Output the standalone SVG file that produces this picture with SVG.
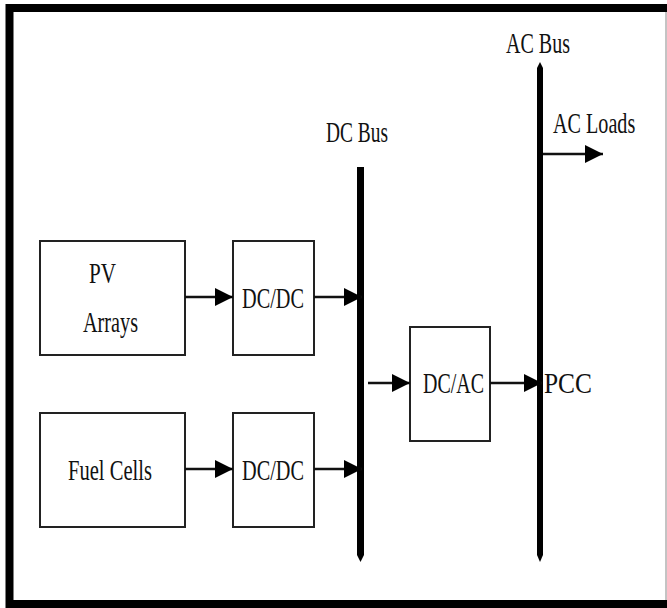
<svg xmlns="http://www.w3.org/2000/svg" width="667" height="608" viewBox="0 0 667 608">
<style>
.box{fill:#fff;stroke:#222;stroke-width:2}
.t{font-family:"Liberation Serif","Times New Roman",serif;font-size:29px;fill:#111}
.w{stroke:#111;stroke-width:2.5;fill:none}
.bus{fill:#000}
</style>
<defs>
<marker id="ah" viewBox="0 0 10 10" refX="10" refY="5" markerWidth="18" markerHeight="18" markerUnits="userSpaceOnUse" orient="auto">
<path d="M0,0 L10,5 L0,10 z" fill="#000"/>
</marker>
</defs>
<rect x="0" y="0" width="667" height="608" fill="#fff"/>
<rect x="9.5" y="8" width="662" height="596" fill="none" stroke="#000" stroke-width="8"/>
<line x1="666" y1="12" x2="666" y2="600" stroke="#888" stroke-width="1"/>

<g id="dc-bus">
<path class="bus" d="M357,167 L364,167 L364,555 L360.5,562 L357,555 Z"/>
<text class="t" x="326" y="142" textLength="62" lengthAdjust="spacingAndGlyphs">DC Bus</text>
</g>
<g id="ac-bus">
<path class="bus" d="M537,68 L540,62 L543,68 L543,555 L540,562 L537,555 Z"/>
<text class="t" x="506" y="53" textLength="64" lengthAdjust="spacingAndGlyphs">AC Bus</text>
</g>
<g id="pv">
<rect class="box" x="40" y="241" width="145" height="114"/>
<text class="t" x="89" y="283" textLength="27" lengthAdjust="spacingAndGlyphs">PV</text>
<text class="t" x="83" y="332" textLength="55" lengthAdjust="spacingAndGlyphs">Arrays</text>
</g>
<g id="dcdc1">
<rect class="box" x="233" y="241" width="81" height="114"/>
<text class="t" x="242" y="308" textLength="62" lengthAdjust="spacingAndGlyphs">DC/DC</text>
</g>
<g id="fuel">
<rect class="box" x="40" y="413" width="145" height="114"/>
<text class="t" x="68" y="480" textLength="84" lengthAdjust="spacingAndGlyphs">Fuel Cells</text>
</g>
<g id="dcdc2">
<rect class="box" x="233" y="413" width="81" height="114"/>
<text class="t" x="242" y="480" textLength="62" lengthAdjust="spacingAndGlyphs">DC/DC</text>
</g>
<g id="dcac">
<rect class="box" x="410" y="327" width="80" height="114"/>
<text class="t" x="423" y="393" textLength="61" lengthAdjust="spacingAndGlyphs">DC/AC</text>
</g>
<g id="pcc">
<text class="t" x="544" y="393" textLength="48" lengthAdjust="spacingAndGlyphs">PCC</text>
</g>
<g id="ac-loads">
<text class="t" transform="translate(553,133) scale(0.695,1)" x="0" y="0">AC Loads</text>
</g>

<g id="connectors">
<line class="w" x1="185" y1="297" x2="233" y2="297" marker-end="url(#ah)"/>
<line class="w" x1="314" y1="297" x2="362" y2="297" marker-end="url(#ah)"/>
<line class="w" x1="185" y1="469" x2="233" y2="469" marker-end="url(#ah)"/>
<line class="w" x1="314" y1="469" x2="362" y2="469" marker-end="url(#ah)"/>
<line class="w" x1="368" y1="383" x2="410" y2="383" marker-end="url(#ah)"/>
<line class="w" x1="490" y1="383" x2="542" y2="383" marker-end="url(#ah)"/>
<line class="w" x1="543" y1="154" x2="603" y2="154" marker-end="url(#ah)"/>
</g>
</svg>
